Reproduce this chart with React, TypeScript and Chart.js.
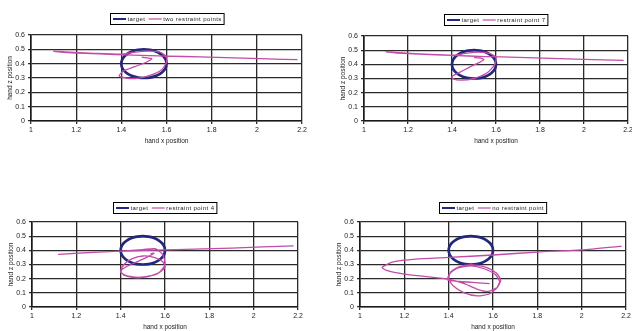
import React, { useEffect, useRef } from "react";
import { Chart, registerables } from "chart.js";

Chart.register(...registerables);

// ---- data ----
const X_TICKS = [1, 1.2, 1.4, 1.6, 1.8, 2, 2.2];
const X_TICK_LABELS = ["1", "1.2", "1.4", "1.6", "1.8", "2", "2.2"];
const Y_TICKS = [0, 0.1, 0.2, 0.3, 0.4, 0.5, 0.6];
const Y_TICK_LABELS = ["0", "0.1", "0.2", "0.3", "0.4", "0.5", "0.6"];

const X_TITLE = "hand x position";
const Y_TITLE = "hand z position";
const TARGET_LABEL = "target";

// target circle
const TARGET_X = [1.6, 1.597, 1.587, 1.571, 1.55, 1.526, 1.5, 1.474, 1.45, 1.429, 1.413, 1.403, 1.4, 1.403, 1.413, 1.429, 1.45, 1.474, 1.5, 1.526, 1.55, 1.571, 1.587, 1.597, 1.6];
const TARGET_Z = [0.4, 0.426, 0.45, 0.471, 0.487, 0.497, 0.5, 0.497, 0.487, 0.471, 0.45, 0.426, 0.4, 0.374, 0.35, 0.329, 0.313, 0.303, 0.3, 0.303, 0.313, 0.329, 0.35, 0.374, 0.4];

// panel 1: two restraint points
const TWO_LABEL = "two restraint points";
const TWO_X = [2.18, 2.05, 1.9, 1.75, 1.6, 1.45, 1.3, 1.18, 1.11, 1.1, 1.15, 1.28, 1.4, 1.45, 1.52, 1.57, 1.6, 1.6, 1.58, 1.53, 1.47, 1.42, 1.39, 1.41, 1.46, 1.51, 1.535, 1.515, 1.49];
const TWO_Z = [0.428, 0.433, 0.44, 0.447, 0.453, 0.46, 0.468, 0.476, 0.484, 0.488, 0.482, 0.472, 0.466, 0.478, 0.487, 0.48, 0.45, 0.41, 0.36, 0.32, 0.298, 0.3, 0.315, 0.35, 0.38, 0.41, 0.435, 0.44, 0.445];

// panel 2: restraint point 7
const P7_LABEL = "restraint point 7";
const P7_X = [2.18, 2.0, 1.85, 1.7, 1.55, 1.4, 1.25, 1.15, 1.11, 1.1, 1.16, 1.3, 1.41, 1.46, 1.52, 1.57, 1.6, 1.595, 1.56, 1.5, 1.44, 1.405, 1.4, 1.43, 1.48, 1.52, 1.545, 1.525, 1.5];
const P7_Z = [0.428, 0.435, 0.442, 0.449, 0.455, 0.463, 0.472, 0.48, 0.486, 0.489, 0.482, 0.47, 0.465, 0.477, 0.486, 0.477, 0.45, 0.4, 0.34, 0.3, 0.288, 0.298, 0.315, 0.34, 0.38, 0.41, 0.433, 0.445, 0.448];

// panel 3: restraint point 4
const P4_LABEL = "restraint point 4";
const P4_X = [2.18, 1.9, 1.65, 1.45, 1.3, 1.12, 1.25, 1.4, 1.5, 1.555, 1.59, 1.6, 1.575, 1.52, 1.46, 1.415, 1.4, 1.415, 1.45, 1.5, 1.55, 1.59, 1.6, 1.56, 1.49, 1.43, 1.4, 1.41, 1.46, 1.51, 1.55, 1.535];
const P4_Z = [0.432, 0.416, 0.405, 0.397, 0.388, 0.372, 0.384, 0.395, 0.405, 0.412, 0.37, 0.3, 0.245, 0.212, 0.208, 0.225, 0.255, 0.3, 0.34, 0.36, 0.35, 0.32, 0.28, 0.23, 0.21, 0.22, 0.245, 0.27, 0.31, 0.345, 0.38, 0.375];

// panel 4: no restraint point
const NO_LABEL = "no restraint point";
const NO_X = [2.18, 2.0, 1.8, 1.6, 1.4, 1.25, 1.15, 1.1, 1.12, 1.2, 1.3, 1.4, 1.47, 1.53, 1.58, 1.62, 1.635, 1.615, 1.57, 1.51, 1.45, 1.41, 1.4, 1.42, 1.47, 1.53, 1.58, 1.615, 1.63, 1.61, 1.56, 1.5, 1.44, 1.405, 1.395, 1.45, 1.52, 1.585];
const NO_Z = [0.43, 0.403, 0.388, 0.367, 0.35, 0.338, 0.318, 0.28, 0.258, 0.232, 0.215, 0.197, 0.165, 0.125, 0.11, 0.14, 0.19, 0.24, 0.28, 0.298, 0.285, 0.25, 0.2, 0.15, 0.1, 0.078, 0.09, 0.13, 0.18, 0.23, 0.27, 0.29, 0.275, 0.235, 0.19, 0.18, 0.172, 0.165];

// ---- styles ----
const NAVY = "#24287c";
const PINK = "#c24ca8";
const FONT = "Liberation Sans";

const legendBox = {
  id: "legendBox",
  afterDraw(chart: any, _args: any, opts: any) {
    const ctx = chart.ctx;
    const ca = chart.chartArea;
    ctx.save();
    ctx.font = `6px "${FONT}"`;
    (ctx as any).letterSpacing = "0.4px";
    const items = chart.data.datasets.map((d: any) => ({ text: d.label, color: d.borderColor, lw: d.legendLineWidth }));
    const sample = 13, gap = 1.5, itemGap = 3.5, pad = 2.5;
    const widths = items.map((it: any) => ctx.measureText(it.text).width);
    let total = pad * 2 + itemGap * (items.length - 1);
    items.forEach((_: any, i: number) => (total += sample + gap + widths[i]));
    const cx = (ca.left + ca.right) / 2;
    const top = Math.round(ca.top - opts.offset) + 0.5;
    const h = 11;
    const x0 = Math.round(cx - total / 2) + 0.5;
    ctx.fillStyle = "#fff";
    ctx.fillRect(x0, top, total, h);
    ctx.strokeStyle = "#000";
    ctx.lineWidth = 1;
    ctx.strokeRect(x0, top, total, h);
    let x = x0 + pad;
    const my = top + h / 2;
    items.forEach((it: any, i: number) => {
      ctx.strokeStyle = it.color;
      ctx.lineWidth = it.lw;
      ctx.beginPath();
      ctx.moveTo(x, my);
      ctx.lineTo(x + sample, my);
      ctx.stroke();
      x += sample + gap;
      ctx.fillStyle = "#222";
      ctx.textBaseline = "middle";
      ctx.textAlign = "left";
      ctx.fillText(it.text, x, my + 0.5);
      x += widths[i] + itemGap;
    });
    ctx.restore();
  },
};

type Area = { l: number; r: number; t: number; b: number };

function Panel(props: { left: number; top: number; w: number; h: number; area: Area; legendOffset: number; label: string; xs: number[]; zs: number[] }) {
  const ref = useRef<HTMLCanvasElement>(null);
  const { left, top, w, h, area, legendOffset, label, xs, zs } = props;
  useEffect(() => {
    if (!ref.current) return;
    const tickFont = { family: FONT, size: 7 };
    const titleFont = { family: FONT, size: 6.5 };
    const chart = new Chart(ref.current, {
      type: "scatter",
      data: {
        datasets: [
          {
            label: TARGET_LABEL,
            data: TARGET_X.map((x, i) => ({ x, y: TARGET_Z[i] })),
            showLine: true,
            borderColor: NAVY,
            borderWidth: 2.7,
            pointRadius: 0,
            tension: 0.4,
            order: 1,
            legendLineWidth: 2,
          } as any,
          {
            label,
            data: xs.map((x, i) => ({ x, y: zs[i] })),
            showLine: true,
            borderColor: PINK,
            borderWidth: 1.3,
            pointRadius: 0,
            tension: 0.2,
            order: 0,
            legendLineWidth: 1.2,
          } as any,
        ],
      },
      options: {
        responsive: false,
        animation: false,
        devicePixelRatio: 1,
        layout: { padding: { left: area.l - 31, top: area.t, right: w - area.r, bottom: h - area.b - 24 } },
        plugins: {
          legend: { display: false },
          tooltip: { enabled: false },
          legendBox: { offset: legendOffset },
        } as any,
        scales: {
          x: {
            type: "linear",
            min: 1,
            max: 2.2,
            afterBuildTicks: (s: any) => {
              s.ticks = X_TICKS.map((v) => ({ value: v }));
            },
            afterFit: (s: any) => {
              s.height = 24;
              s.paddingLeft = 0;
              s.paddingRight = 0;
            },
            ticks: {
              callback: (_v: any, i: number) => X_TICK_LABELS[i],
              font: tickFont,
              color: "#222",
              padding: 2,
              maxRotation: 0,
              autoSkip: false,
            },
            grid: { color: "#2a2a2a", lineWidth: 1.3, tickLength: 3 },
            border: { color: "#1a1a1a", width: 1.6 },
            title: { display: true, text: X_TITLE, font: titleFont, color: "#222", padding: 0 },
          },
          y: {
            type: "linear",
            min: 0,
            max: 0.6,
            afterBuildTicks: (s: any) => {
              s.ticks = Y_TICKS.map((v) => ({ value: v }));
            },
            afterFit: (s: any) => {
              s.width = 31;
              s.paddingTop = 0;
              s.paddingBottom = 0;
            },
            ticks: {
              callback: (_v: any, i: number) => Y_TICK_LABELS[i],
              font: tickFont,
              color: "#222",
              padding: 3,
              autoSkip: false,
            },
            grid: { color: "#2a2a2a", lineWidth: 1.3, tickLength: 3 },
            border: { color: "#1a1a1a", width: 1.6 },
            title: { display: true, text: Y_TITLE, font: titleFont, color: "#222", padding: { top: 6, bottom: 0 } },
          },
        },
      } as any,
      plugins: [legendBox],
    });
    return () => chart.destroy();
  }, []);
  return (
    <canvas
      ref={ref}
      width={w}
      height={h}
      style={{ position: "absolute", left, top, width: w, height: h, display: "block" }}
    />
  );
}

export default function App() {
  return (
    <div style={{ position: "absolute", left: 0, top: 0, width: 632, height: 331, overflow: "hidden", background: "#fff" }}>
      <Panel left={0} top={0} w={316} h={165} area={{ l: 31, r: 302, t: 35, b: 121 }} legendOffset={22} label={TWO_LABEL} xs={TWO_X} zs={TWO_Z} />
      <Panel left={316} top={0} w={316} h={165} area={{ l: 48, r: 312, t: 36, b: 121 }} legendOffset={22} label={P7_LABEL} xs={P7_X} zs={P7_Z} />
      <Panel left={0} top={165} w={316} h={166} area={{ l: 32, r: 298, t: 57, b: 142 }} legendOffset={20} label={P4_LABEL} xs={P4_X} zs={P4_Z} />
      <Panel left={316} top={165} w={316} h={166} area={{ l: 44, r: 310, t: 57, b: 142 }} legendOffset={20} label={NO_LABEL} xs={NO_X} zs={NO_Z} />
    </div>
  );
}
